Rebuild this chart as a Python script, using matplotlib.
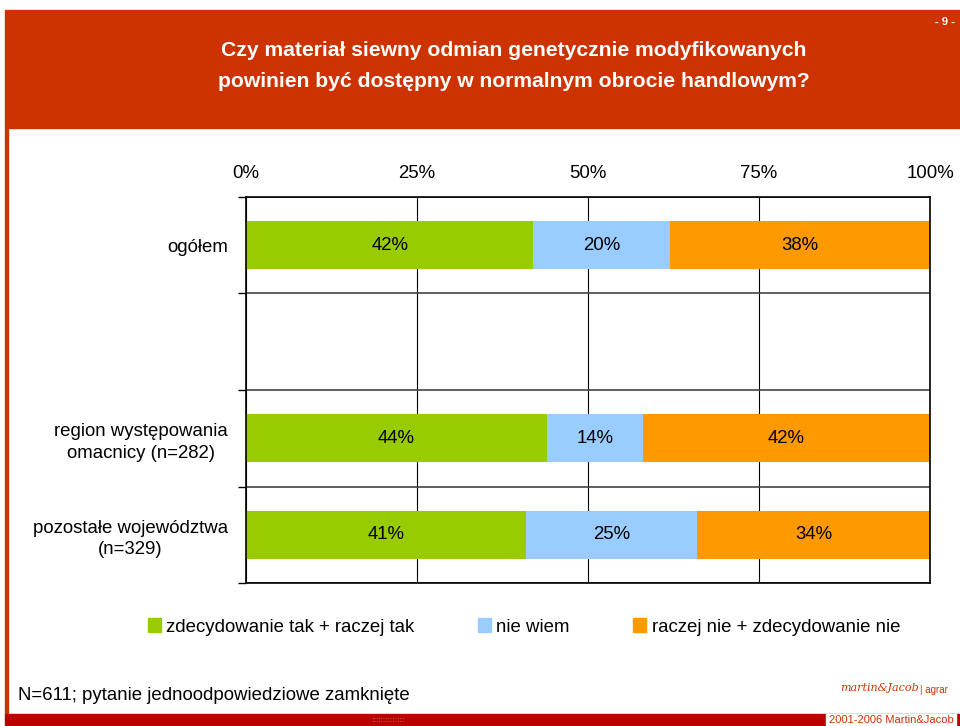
import matplotlib.pyplot as plt
import matplotlib.patches as mpatches
import numpy as np

plt.rcParams['font.family'] = ['Liberation Sans', 'DejaVu Sans']

# data
categories = ['ogółem', '', 'region występowania\nomacnicy (n=282)', 'pozostałe województwa\n(n=329)']
tak   = [42, None, 44, 41]
wiem  = [20, None, 14, 25]
nie   = [38, None, 42, 34]
series_names = ['zdecydowanie tak + raczej tak', 'nie wiem', 'raczej nie + zdecydowanie nie']
colors = ['#99CC00', '#99CCFF', '#FF9900']
xticks = [0, 25, 50, 75, 100]

title = 'Czy materiał siewny odmian genetycznie modyfikowanych\npowinien być dostępny w normalnym obrocie handlowym?'
footnote = 'N=611; pytanie jednoodpowiedziowe zamknięte'

fs = 13.4

fig = plt.figure(figsize=(9.6, 7.26), dpi=100)
W, H = 960, 726

def fx(px): return px / W
def fy(py): return 1 - py / H

# header band and page frame
fig.patches.append(mpatches.Rectangle((fx(5), fy(128)), fx(955), (118) / H,
                                      transform=fig.transFigure, color='#CC3300', zorder=0))
fig.patches.append(mpatches.Rectangle((fx(5), fy(714)), fx(3), (714 - 128) / H,
                                      transform=fig.transFigure, color='#CC3300', zorder=0))
fig.patches.append(mpatches.Rectangle((fx(5), 0), fx(955), 12 / H,
                                      transform=fig.transFigure, color='#BB0000', zorder=0))
fig.patches.append(mpatches.Rectangle((fx(826), fy(725)), fx(130), 11 / H,
                                      transform=fig.transFigure, color='white', zorder=1))
fig.text(fx(891), fy(720), '2001-2006 Martin&Jacob', color='#CC3300', fontsize=8,
         ha='center', va='center')
fig.text(fx(388), fy(720), '::::::::::::::', color='#E08080', fontsize=6, ha='center', va='center')

fig.text(fx(514), fy(66), title, color='white', fontsize=15.2, fontweight='bold',
         ha='center', va='center', linespacing=1.85)
fig.text(fx(945), fy(22), '- 9 -', color='white', fontsize=8, fontweight='bold',
         ha='center', va='center')

ax = fig.add_axes([fx(246), fy(583), fx(930) - fx(246), (583 - 197) / H])

y = np.arange(len(categories)) + 0.5
left = np.zeros(len(categories))
for vals, c, name in zip([tak, wiem, nie], colors, series_names):
    v = np.array([0 if a is None else a for a in vals], dtype=float)
    ax.barh(y, v, left=left, height=0.5, color=c, label=name, zorder=2)
    for yy, l, w in zip(y, left, v):
        if w > 0:
            ax.text(l + w / 2, yy, f'{int(w)}%', ha='center', va='center', fontsize=fs, zorder=3)
    left += v

ax.set_xlim(0, 100)
ax.set_ylim(len(categories), 0)
ax.xaxis.tick_top()
ax.set_xticks(xticks)
ax.set_xticklabels([f'{t}%' for t in xticks], fontsize=fs)
ax.tick_params(axis='x', length=0, pad=11)
ax.set_yticks(y)
ax.set_yticklabels(categories, fontsize=fs, multialignment='center', linespacing=1.35)
ax.tick_params(axis='y', which='major', length=0, pad=13)
ax.set_yticks(np.arange(len(categories) + 1), minor=True)
ax.tick_params(axis='y', which='minor', length=6, width=1, color='black')
ax.grid(axis='x', color='black', linewidth=0.8, zorder=1)
ax.grid(axis='y', which='minor', color='#444444', linewidth=1.2, zorder=1)
for s in ax.spines.values():
    s.set_linewidth(1.2)
ax.set_axisbelow(True)

handles = [mpatches.Patch(color=c, label=n) for c, n in zip(colors, series_names)]
fig.legend(handles=handles, loc='center', bbox_to_anchor=(fx(524), fy(627)), ncol=3,
           frameon=False, fontsize=fs, handlelength=0.7, handleheight=0.7,
           handletextpad=0.3, columnspacing=3.4)

fig.text(fx(18), fy(695), footnote, fontsize=fs, ha='left', va='center')
fig.text(fx(880), fy(688), 'martin&Jacob', color='#CC3300', fontsize=8, style='italic',
         family='DejaVu Serif', ha='center', va='center')
fig.text(fx(920), fy(690), '| agrar', color='#CC3300', fontsize=7, ha='left', va='center')

fig.savefig('out.png', dpi=100)
